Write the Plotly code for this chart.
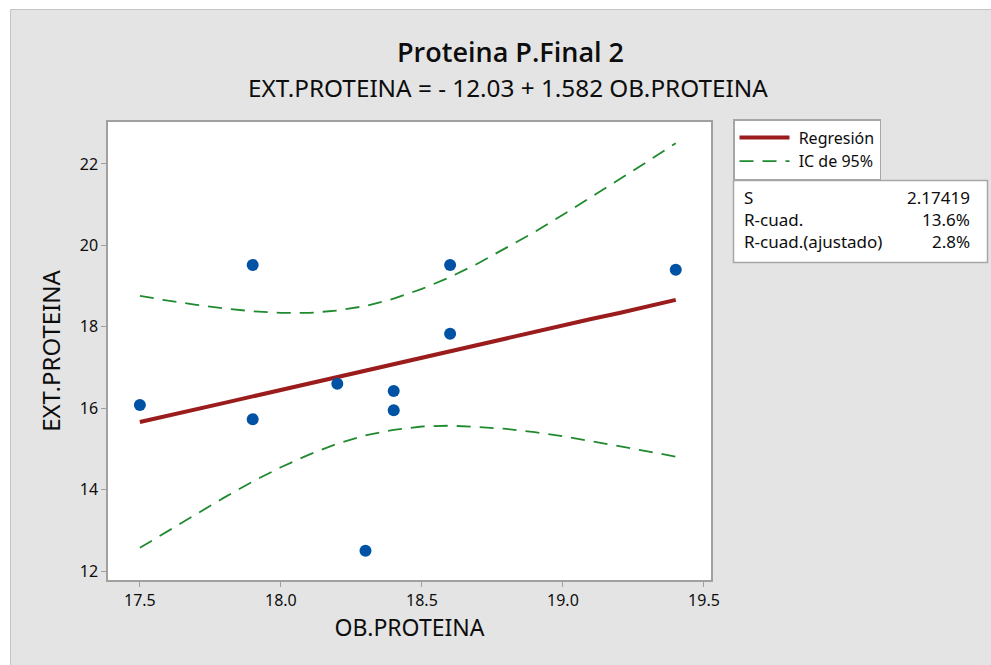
import plotly.graph_objects as go

# Observed data
ob_proteina = [17.5, 17.9, 17.9, 18.2, 18.3, 18.4, 18.4, 18.6, 18.6, 19.4]
ext_proteina = [16.08, 19.52, 15.73, 16.60, 12.50, 16.42, 15.95, 19.52, 17.83, 19.40]

# Fit and 95% CI curve
x_grid = [17.5, 17.6, 17.7, 17.8, 17.9, 18.0, 18.1, 18.2, 18.3, 18.4,
          18.5, 18.6, 18.7, 18.8, 18.9, 19.0, 19.1, 19.2, 19.3, 19.4]
fit_y = [15.66, 15.81, 15.97, 16.13, 16.29, 16.45, 16.60, 16.76, 16.92, 17.08,
         17.24, 17.40, 17.55, 17.71, 17.87, 18.03, 18.19, 18.34, 18.50, 18.66]
ci_upper = [18.76, 18.64, 18.54, 18.45, 18.38, 18.34, 18.34, 18.40, 18.51, 18.69,
            18.93, 19.22, 19.56, 19.94, 20.33, 20.75, 21.18, 21.62, 22.06, 22.51]
ci_lower = [12.57, 12.99, 13.41, 13.81, 14.20, 14.55, 14.86, 15.13, 15.33, 15.47,
            15.55, 15.57, 15.54, 15.49, 15.41, 15.31, 15.19, 15.07, 14.94, 14.81]

x_ticks = [17.5, 18.0, 18.5, 19.0, 19.5]
y_ticks = [12, 14, 16, 18, 20, 22]

stats_labels = ["S", "R-cuad.", "R-cuad.(ajustado)"]
stats_values = ["2.17419", "13.6%", "2.8%"]

title = "Proteina P.Final 2"
subtitle = "EXT.PROTEINA = - 12.03 + 1.582 OB.PROTEINA"

FONT = "Noto Sans"
TXT = "#0d0d0d"
W, H = 991, 665
L, R, T, B = 108, 711, 122, 580
PW, PH = R - L, B - T


def px(x):
    return (x - L) / PW


def py(y):
    return (B - y) / PH


fig = go.Figure()
fig.add_trace(go.Scatter(x=x_grid, y=fit_y, mode="lines", name="\u00a0Regresión",
                         line=dict(color="#9b1c1c", width=4)))
fig.add_trace(go.Scatter(x=x_grid, y=ci_upper, mode="lines", name="\u00a0IC de 95%",
                         line=dict(color="#1f8a2e", width=1.8, dash="14px,9px")))
fig.add_trace(go.Scatter(x=x_grid, y=ci_lower, mode="lines", name="IC de 95%",
                         showlegend=False,
                         line=dict(color="#1f8a2e", width=1.8, dash="14px,9px")))
fig.add_trace(go.Scatter(x=ob_proteina, y=ext_proteina, mode="markers",
                         showlegend=False,
                         marker=dict(color="#0052a5", size=12)))

shapes = []
# outer white strips and frame
shapes.append(dict(type="rect", xref="paper", yref="paper",
                   x0=px(0), x1=px(10), y0=py(H), y1=py(0),
                   fillcolor="white", line=dict(width=0), layer="below"))
shapes.append(dict(type="rect", xref="paper", yref="paper",
                   x0=px(0), x1=px(W), y0=py(9), y1=py(0),
                   fillcolor="white", line=dict(width=0), layer="below"))
shapes.append(dict(type="rect", xref="paper", yref="paper",
                   x0=px(10.5), x1=px(W + 5), y0=py(H + 5), y1=py(9.5),
                   fillcolor="rgba(0,0,0,0)", line=dict(color="#c4c4c4", width=1)))
# stats box
shapes.append(dict(type="rect", xref="paper", yref="paper",
                   x0=px(733.5), x1=px(987.5), y0=py(262.5), y1=py(180.5),
                   fillcolor="white", line=dict(color="#a6a6a6", width=1.5)))

annotations = [
    dict(text=title, x=px(510), y=py(52), xref="paper", yref="paper",
         showarrow=False, xanchor="center", yanchor="middle",
         font=dict(family="Open Sans", size=27, color=TXT, weight=600)),
    dict(text=subtitle, x=px(508), y=py(88), xref="paper", yref="paper",
         showarrow=False, xanchor="center", yanchor="middle",
         font=dict(family=FONT, size=24.3, color=TXT)),
]
row_y = [197, 219, 242]
for lab, val, yy in zip(stats_labels, stats_values, row_y):
    annotations.append(dict(text=lab, x=px(742), y=py(yy), xref="paper", yref="paper",
                            showarrow=False, xanchor="left", yanchor="middle",
                            font=dict(family=FONT, size=17, color=TXT)))
    annotations.append(dict(text=val, x=px(972), y=py(yy), xref="paper", yref="paper",
                            showarrow=False, xanchor="right", yanchor="middle",
                            font=dict(family=FONT, size=17, color=TXT)))

axis_common = dict(showline=True, linecolor="#a0a0a0", linewidth=1.5, mirror=True,
                   ticks="outside", ticklen=5, tickcolor="#a0a0a0", tickwidth=1,
                   showgrid=False, zeroline=False,
                   tickfont=dict(family=FONT, size=16, color=TXT))

fig.update_layout(
    width=W, height=H,
    margin=dict(l=L, r=W - R, t=T, b=H - B, autoexpand=False),
    paper_bgcolor="#e4e4e4", plot_bgcolor="white",
    showlegend=True,
    legend=dict(x=px(733), y=py(119), xanchor="left", yanchor="top",
                bgcolor="white", bordercolor="#a6a6a6", borderwidth=1.5,
                font=dict(family=FONT, size=16, color=TXT),
                itemwidth=50, tracegroupgap=0),
    xaxis=dict(range=[17.387, 19.525], tickvals=x_ticks,
               ticktext=[f"{v:.1f}" for v in x_ticks],
               title=dict(text="OB.PROTEINA", standoff=10,
                          font=dict(family=FONT, size=23, color=TXT)),
               **axis_common),
    yaxis=dict(range=[11.78, 23.03], tickvals=y_ticks,
               title=dict(text="EXT.PROTEINA", standoff=12,
                          font=dict(family=FONT, size=24, color=TXT)),
               **axis_common),
    shapes=shapes, annotations=annotations,
)

fig.write_html("out.html", config={"displayModeBar": False},
               post_script="document.body.style.margin='0';document.body.style.overflow='hidden';")
